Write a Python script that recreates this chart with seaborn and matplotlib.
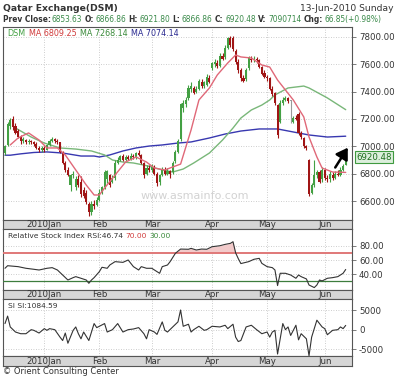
import numpy as np
import pandas as pd
import matplotlib
matplotlib.use("Agg")
import matplotlib.pyplot as plt
import matplotlib.transforms as mtrans
import seaborn as sns

sns.set_theme(style="white")
plt.rcParams['font.family'] = ['DejaVu Sans']

# ---------------- data ----------------
opens = [6950,7010,7150,7200,7150,7110,7070,7040,7045,7030,
         7035,7030,7020,6990,6970,6990,6975,7010,7040,7050,
         7040,7030,6960,6880,6830,6720,6790,6700,6760,6740,
         6680,6660,6580,6520,6580,6570,6610,6660,6700,6760,
         6790,6740,6770,6880,6900,6930,6900,6920,6910,6930,
         6920,6950,6940,6880,6800,6840,6830,6850,6800,6740,
         6790,6830,6800,6820,6810,6890,6960,7050,7280,7310,
         7350,7420,7430,7400,7420,7470,7440,7450,7500,7570,
         7600,7610,7590,7660,7650,7720,7790,7790,7700,7620,
         7560,7500,7490,7570,7640,7630,7640,7630,7580,7540,
         7510,7500,7420,7390,7300,7180,7320,7340,7350,7330,
         7180,7210,7240,7100,7060,7000,6900,6660,6720,6790,
         6810,6760,6830,6770,6760,6790,6770,6800,6790,6830,
         6866.86]
closes = [7000,7160,7190,7140,7100,7070,7040,7050,7030,7035,
          7030,7020,6990,6970,6990,6970,7010,7040,7050,7040,
          7030,6960,6880,6830,6790,6790,6800,6760,6720,6650,
          6640,6590,6520,6580,6560,6610,6660,6700,6810,6820,
          6720,6770,6880,6900,6930,6900,6920,6910,6930,6920,
          6950,6940,6880,6790,6840,6830,6850,6800,6730,6790,
          6830,6800,6820,6800,6880,6960,7040,7310,7320,7340,
          7430,7440,7390,7420,7480,7440,7470,7510,7470,7610,
          7620,7590,7660,7640,7720,7790,7740,7710,7620,7560,
          7500,7480,7560,7650,7630,7640,7630,7580,7530,7510,
          7500,7420,7380,7320,7080,7320,7340,7350,7330,7330,
          7210,7200,7100,7070,7000,6990,6650,6720,6790,6810,
          6740,6830,6770,6760,6800,6770,6800,6790,6830,6853.63,
          6920.48]
highs = [7010,7175,7210,7225,7170,7130,7080,7065,7055,7050,
         7045,7040,7030,7000,7000,7005,7020,7050,7070,7060,
         7055,7035,6965,6890,6850,6800,6820,6780,6790,6780,
         6700,6680,6590,6600,6610,6630,6690,6710,6830,6830,
         6800,6790,6900,6920,6940,6945,6935,6940,6950,6945,
         6960,6970,6945,6885,6860,6865,6870,6860,6810,6800,
         6850,6850,6840,6830,6890,6970,7050,7320,7340,7360,
         7450,7470,7440,7440,7490,7490,7480,7530,7520,7620,
         7640,7630,7680,7680,7740,7800,7810,7810,7710,7640,
         7570,7520,7570,7660,7660,7660,7650,7640,7590,7560,
         7520,7510,7440,7400,7310,7340,7360,7370,7360,7340,
         7220,7230,7250,7110,7070,7010,6910,6730,6900,6830,
         6830,6850,6840,6790,6820,6810,6820,6830,6850,6870,
         6921.80]
lows = [6940,7000,7130,7120,7090,7060,7020,7025,7020,7020,
        7020,7005,6980,6955,6960,6960,6970,7000,7030,7025,
        7020,6950,6870,6810,6780,6670,6770,6680,6700,6630,
        6620,6580,6490,6500,6540,6560,6600,6650,6690,6730,
        6700,6730,6750,6870,6890,6890,6895,6900,6900,6910,
        6910,6930,6870,6770,6790,6810,6815,6790,6710,6720,
        6780,6790,6790,6770,6800,6880,6950,7040,7250,7290,
        7340,7400,7380,7390,7410,7430,7430,7440,7460,7560,
        7580,7570,7580,7630,7640,7710,7730,7700,7600,7540,
        7480,7470,7480,7560,7620,7620,7610,7570,7520,7500,
        7480,7410,7370,7300,7060,7170,7300,7330,7320,7170,
        7170,7190,7080,7050,6990,6970,6640,6650,6700,6770,
        6730,6740,6750,6740,6740,6750,6760,6780,6780,6820,
        6866.86]

red_idx = [2,5,9,13,16,20,23,27,31,34,36,38,42,46,50,54,57,61,64,67,71,74,78,81,85,88,90,94,98,101,104,110,114,116,119,121,125,130]
red_val = [7010,7061,7098,7046,6988,6988,6937,6827,6717,6644,6644,6695,6790,6885,6922,6885,6841,6827,6849,6870,7120,7339,7427,7522,7610,7668,7654,7646,7595,7580,7485,7339,7215,7068,6922,6841,6812,6809.25]
green_idx = [4,10,15,21,27,33,38,41,45,49,53,56,60,64,68,72,78,83,87,90,94,98,101,103,108,114,116,123,130]
green_val = [7134,7068,7024,6988,6980,6966,6937,6900,6885,6878,6863,6849,6827,6812,6834,6878,6951,7046,7134,7207,7266,7302,7339,7376,7427,7441,7427,7354,7268.14]
blue_idx = [0,2,6,11,16,22,29,34,36,40,45,50,55,60,66,71,78,84,90,97,101,104,110,116,123,130]
blue_val = [6935,6935,6945,6955,6959,6951,6929,6929,6922,6937,6966,6988,7002,7010,7024,7032,7061,7090,7112,7127,7127,7127,7105,7083,7068,7074.14]

rsi_idx = [0,1,5,8,11,13,16,18,20,22,24,26,27,29,31,32,33,34,36,37,39,40,42,45,47,49,51,52,54,56,58,59,60,62,63,65,67,70,71,73,75,77,79,82,84,86,87,88,89,90,93,95,97,98,100,102,103,104,105,107,109,111,112,113,115,116,118,119,120,121,123,125,127,129,130]
rsi_val = [48.4,52,50.7,48.4,47,46,48.4,49.3,46,39,32,35.3,36.7,34.4,32,27.4,32,35.3,43.7,49.8,48.4,53,57.7,56.7,60,50.7,46,50.7,48.4,48.4,43.7,41.4,50.7,53,57.7,69.3,75.3,75,76.3,74,75.3,75,78.6,80,81.9,83.3,85.6,70,62,55,57.7,61,62.3,55.3,50.7,49.3,46,24.2,41.4,41.4,39,34.4,39,36.7,33.5,25,21.4,25,32,30.7,34.4,35.3,36.7,41.4,46.74]

si_idx = [0,1,2,4,6,8,10,11,13,15,16,17,19,21,22,23,24,26,27,28,29,30,32,34,35,36,38,39,41,43,45,47,49,51,53,54,55,57,58,60,61,62,64,66,67,68,70,71,72,74,76,77,79,82,84,85,87,88,89,90,92,94,96,98,100,101,102,103,104,106,107,108,109,111,112,113,115,116,117,119,121,122,123,125,127,128,129,130]
si_val = [1550,3450,690,-600,-1030,-1030,0,-170,-860,260,-170,260,0,-1900,-2760,-860,-3450,-170,690,-1030,-2330,-600,-2760,1550,520,860,1550,-600,0,1550,-600,0,170,520,-1030,-2330,0,-600,-1200,1980,-170,-600,690,1980,5000,860,1380,-600,0,860,-170,0,860,690,1120,260,1380,-1900,-3020,-2760,690,1120,0,-1030,-600,-1900,-600,-170,-6200,1550,0,690,-1470,1120,-2590,-1030,-2330,-6640,-1900,2410,690,260,-1290,-170,0,690,260,1084.59]

price_ticks = [6600, 6800, 7000, 7200, 7400, 7600, 7800]
rsi_ticks = [40, 60, 80]
si_ticks = [-5000, 0, 5000]
arrow_tail = (126, 6845)
arrow_head = (130.8, 6990)

header_title = "Qatar Exchange(DSM)"
header_date = "13-Jun-2010 Sunday"
quote_parts = [("Prev Close:", "6853.63"), ("O:", "6866.86"), ("H:", "6921.80"),
               ("L:", "6866.86"), ("C:", "6920.48"), ("V:", "7090714"), ("Chg:", "66.85(+0.98%)")]

# ---------------- figure ----------------
W, H = 400, 379
fig = plt.figure(figsize=(W / 100, H / 100), dpi=100)
fig.patch.set_facecolor("white")


def fax(x0, y0, x1, y1):
    return fig.add_axes([x0 / W, 1 - y1 / H, (x1 - x0) / W, (y1 - y0) / H])


n = len(closes)
dates = pd.bdate_range(end="2010-06-13", periods=n, freq="C", weekmask="Sun Mon Tue Wed Thu")
month_pos = [i for i in range(1, n) if dates[i].month != dates[i - 1].month]
month_lab = [("%d" % dates[i].year + dates[i].strftime("%b")) if dates[i].month == 1 else dates[i].strftime("%b")
             for i in month_pos]
XL = (-0.76, 132.4)

ax = fax(3, 27, 352, 220)
b1 = fax(3, 220, 352, 229)
ar = fax(3, 229, 352, 290)
b2 = fax(3, 290, 352, 299)
asi = fax(3, 299, 352, 356)
b3 = fax(3, 356, 352, 366)

GREEN_C = "#43a043"
RED_C = "#a01515"
TXT = "#333333"
FS = 6.2

for a in (ax, ar, asi):
    a.set_xlim(*XL)
    a.set_facecolor("white")
    a.set_xticks(month_pos)
    a.set_xticklabels([])
    a.tick_params(axis="x", length=0)
    a.yaxis.tick_right()
    a.tick_params(axis="y", right=True, length=3, width=0.6, color="#666666",
                  labelsize=FS, labelcolor=TXT, pad=2)
    a.grid(True, ls=(0, (1, 2)), color="#bdbdbd", lw=0.6)
    for s in a.spines.values():
        s.set_color("#555555")
        s.set_linewidth(0.8)

for b in (b1, b2, b3):
    b.set_xlim(*XL)
    b.set_ylim(0, 1)
    b.set_facecolor("#d6d6d6")
    b.set_xticks([])
    b.set_yticks([])
    for s in b.spines.values():
        s.set_color("#555555")
        s.set_linewidth(0.8)
    for p, lab in zip(month_pos, month_lab):
        b.text(p, 0.45, lab, ha="center", va="center", fontsize=FS, color=TXT)

# ---- candles ----
idx = np.arange(n)
o = np.array(opens); c = np.array(closes); hi = np.array(highs); lo = np.array(lows)
cols = np.where(c > o, GREEN_C, np.where(c < o, RED_C, "#9a9a9a"))
ax.vlines(idx, lo, hi, colors=cols, lw=0.8, zorder=3)
body = np.maximum(np.abs(c - o), 6)
ax.bar(idx, body, bottom=np.minimum(o, c), width=0.8, color=cols, linewidth=0, zorder=4)

sns.lineplot(x=blue_idx, y=blue_val, ax=ax, color="#3838b0", lw=1.0, zorder=2)
sns.lineplot(x=green_idx, y=green_val, ax=ax, color="#79b779", lw=1.0, zorder=2)
sns.lineplot(x=red_idx, y=red_val, ax=ax, color="#e06878", lw=1.0, zorder=5)

ax.set_ylim(6461, 7873)
ax.set_yticks(price_ticks)
ax.set_yticklabels(["%.2f" % v for v in price_ticks])
ax.set_xlabel(""); ax.set_ylabel("")

ax.text(0.55, 0.125, "www.asmainfo.com", transform=ax.transAxes, ha="center", va="center",
        fontsize=8, color="#d2d2d2", zorder=1)

ax.annotate("", xy=arrow_head, xytext=arrow_tail,
            arrowprops=dict(arrowstyle="-|>,head_length=0.55,head_width=0.35", color="black", lw=1.8,
                            shrinkA=0, shrinkB=0),
            zorder=6)

trans = mtrans.blended_transform_factory(ax.transAxes, ax.transData)
ax.text(1.013, closes[-1], "%.2f" % closes[-1], transform=trans, ha="left", va="center",
        fontsize=FS, color="#1e6e1e", clip_on=False,
        bbox=dict(boxstyle="square,pad=0.15", fc="#dcefdc", ec="#3f9a3f", lw=0.8), zorder=7)


def chain(host, x, y, parts, fs, transform):
    h = parts[0]
    t = host.text(x, y, h[0], color=h[1], fontweight=h[2], fontsize=fs,
                  transform=transform, va="center", ha="left", zorder=8, clip_on=False)
    for s, col, w, gap in parts[1:]:
        t = host.annotate(s, xy=(1, 0), xycoords=t, xytext=(gap, 0), textcoords="offset points",
                          color=col, fontweight=w, fontsize=fs, va="bottom", ha="left", zorder=8,
                          annotation_clip=False)
    return t


chain(ax, 0.013, 0.968, [("DSM", GREEN_C, "normal"),
                         ("MA %.2f" % red_val[-1], "#d03a3a", "normal", 2.5),
                         ("MA %.2f" % green_val[-1], "#3a8a3a", "normal", 2.5),
                         ("MA %.2f" % blue_val[-1], "#2a2a90", "normal", 2.5)], 5.8, ax.transAxes)

# ---- RSI ----
sns.lineplot(x=rsi_idx, y=rsi_val, ax=ar, color="#333333", lw=0.8, zorder=4)
ar.fill_between(rsi_idx, 70, rsi_val, where=np.array(rsi_val) > 70, interpolate=True,
                color="#f2caca", lw=0, zorder=2)
ar.axhline(70, color="#e07878", lw=1.4, zorder=3)
ar.axhline(30, color="#3d7d3d", lw=0.9, zorder=3)
ar.set_ylim(18, 103.4)
ar.set_yticks(rsi_ticks)
ar.set_yticklabels(["%.2f" % v for v in rsi_ticks])
ar.set_xlabel(""); ar.set_ylabel("")
chain(ar, 0.013, 0.88, [("Relative Stock Index RSI:%.2f" % rsi_val[-1], TXT, "normal"),
                        ("70.00", "#d03a3a", "normal", 2),
                        ("30.00", "#3a8a3a", "normal", 2)], 5.4, ar.transAxes)

# ---- SI ----
sns.lineplot(x=si_idx, y=si_val, ax=asi, color="#333333", lw=0.8, zorder=4)
asi.set_ylim(-6700, 7800)
asi.set_yticks(si_ticks)
asi.set_yticklabels(["%d" % v for v in si_ticks])
asi.set_xlabel(""); asi.set_ylabel("")
chain(asi, 0.013, 0.87, [("SI SI:%.2f" % si_val[-1], TXT, "normal")], 5.4, asi.transAxes)

# ---- header / footer ----
fig.text(3 / W, 1 - 8.5 / H, header_title, fontsize=6.7, fontweight="bold", color=TXT, va="center")
fig.text(394 / W, 1 - 8.5 / H, header_date, fontsize=6.6, color=TXT, va="center", ha="right")

qparts = []
for k, (lab, val) in enumerate(quote_parts):
    qparts.append((lab, TXT, "bold", 1.8) if k else (lab, TXT, "bold"))
    qparts.append((val, "#3a8a4a", "normal", 0.3 if k == 0 else 1.0))
chain(ax, 3 / W, 1 - 19.5 / H, qparts, 5.45, fig.transFigure)

fig.text(3 / W, 1 - 371 / H, "\u00a9 Orient Consulting Center", fontsize=6.0, color=TXT, va="center")

fig.savefig("out.png", dpi=100, facecolor="white")
